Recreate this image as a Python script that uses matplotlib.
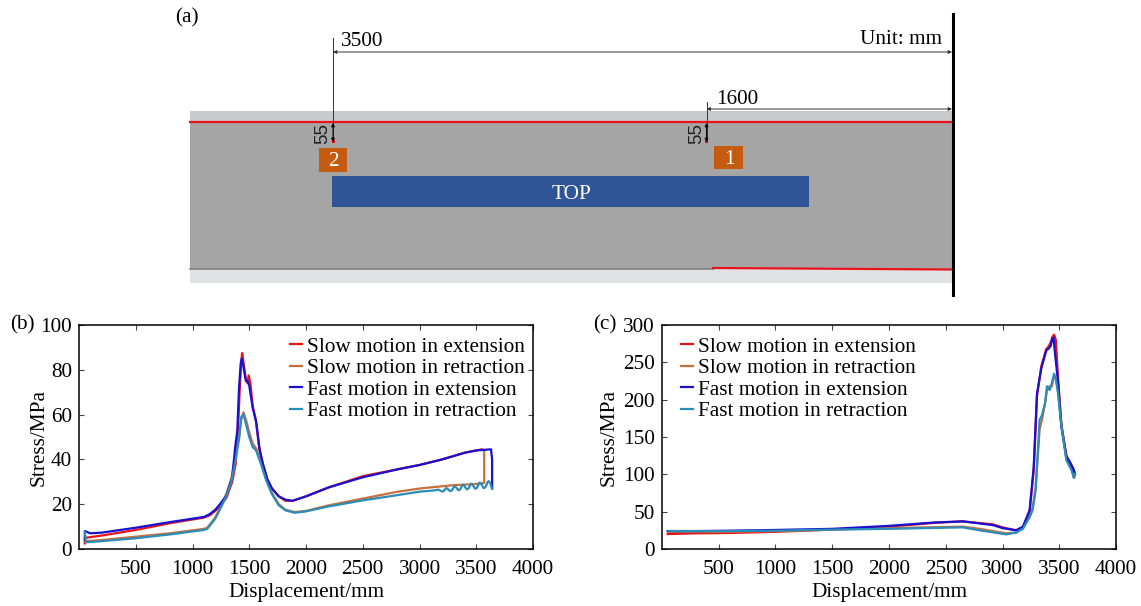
import matplotlib
matplotlib.use('Agg')
import matplotlib.pyplot as plt
from matplotlib.patches import Rectangle

## ----------------------------------------------------------------------------
## Data
## ----------------------------------------------------------------------------
labels = ['Slow motion in extension', 'Slow motion in retraction',
          'Fast motion in extension', 'Fast motion in retraction']
colors = ['#e8141c', '#c8703c', '#1a10d0', '#2a8cb8']

## panel (b)
b_slow_ext_x = [50, 60, 200, 500, 800, 1100, 1150, 1200, 1250, 1300, 1350, 1380, 1400, 1415, 1430, 1438, 1450, 1470, 1485, 1495, 1510, 1530, 1560, 1590, 1620, 1660, 1700, 1760, 1820, 1880, 2000, 2200, 2500, 2800, 3000, 3200, 3400, 3500, 3550, 3570]
b_slow_ext_y = [2.5, 5, 6, 8.5, 11.5, 14, 15, 17, 19.5, 23, 30, 38, 52, 70, 84, 87.5, 83, 76, 74, 77.5, 74, 64, 57, 44, 38, 31, 27, 23.5, 21.5, 21.5, 23.5, 27.5, 32.5, 35.5, 37.5, 40, 43, 44, 44.5, 44]
b_slow_ret_x = [3570, 3570, 3500, 3300, 3000, 2800, 2500, 2200, 2000, 1900, 1820, 1760, 1700, 1650, 1600, 1560, 1530, 1500, 1475, 1450, 1430, 1410, 1373, 1340, 1300, 1260, 1200, 1130, 1100, 800, 500, 200, 60]
b_slow_ret_y = [44, 29.5, 29, 28.5, 27, 25.5, 22.5, 19.5, 17, 16.5, 17.5, 20, 25, 31, 39, 45, 47, 52, 57, 61, 58, 50, 40, 31, 25, 20, 14, 9.5, 9, 7, 5.5, 4, 3.5]
b_fast_ext_x = [50, 52, 100, 200, 500, 800, 1100, 1150, 1200, 1250, 1300, 1350, 1375, 1395, 1410, 1425, 1435, 1450, 1470, 1485, 1500, 1530, 1560, 1590, 1620, 1660, 1700, 1760, 1820, 1880, 2000, 2200, 2500, 2800, 3000, 3200, 3400, 3500, 3630, 3640, 3640]
b_fast_ext_y = [4, 8, 7, 7.3, 9.5, 12, 14.3, 15.5, 17.5, 20.5, 24, 32, 45, 53, 72, 83, 85, 81, 75, 75, 73, 63, 57, 45, 38, 31, 27, 23.5, 22, 21.5, 23.5, 27.5, 32, 35.5, 37.5, 40, 43, 44, 44.5, 40, 27]
b_fast_ret_x = [3640, 3632, 3622, 3610, 3600, 3590, 3578, 3564, 3550, 3537, 3527, 3517, 3505, 3491, 3477, 3464, 3454, 3444, 3432, 3418, 3404, 3391, 3381, 3371, 3359, 3345, 3331, 3318, 3308, 3298, 3286, 3272, 3258, 3245, 3235, 3225, 3213, 3199, 3185, 3172, 3162, 3150, 3100, 3000, 2800, 2500, 2200, 2000, 1900, 1820, 1760, 1700, 1650, 1600, 1560, 1530, 1500, 1475, 1450, 1430, 1410, 1373, 1340, 1300, 1260, 1200, 1130, 1100, 800, 500, 200, 60, 52]
b_fast_ret_y = [27, 27.8, 29.5, 30.3, 29.9, 28.5, 27.4, 27.2, 28.5, 29.5, 29.6, 28.5, 27.2, 26.9, 27.9, 29, 29.2, 28.2, 27, 26.6, 27.4, 28.5, 28.7, 27.9, 26.7, 26.2, 26.9, 27.8, 28, 27.3, 26.2, 25.8, 26.3, 27, 27.2, 26.7, 25.8, 25.7, 26, 26.4, 26.5, 26.3, 26, 25.6, 24, 21.7, 19, 16.8, 16.2, 17.2, 19.5, 24.5, 30.5, 38.5, 44, 45.5, 50, 55, 60, 59, 49, 38, 29.5, 24, 19.5, 13.5, 9, 8.5, 6.5, 4.8, 3.5, 3, 7.5]

## panel (c)
c_slow_ext_x = [50, 300, 600, 1000, 1500, 2000, 2400, 2650, 2915, 3000, 3120, 3180, 3239, 3275, 3304, 3342, 3386, 3400, 3420, 3440, 3455, 3470, 3490, 3519, 3563, 3600, 3622, 3640, 3625]
c_slow_ext_y = [20, 21, 21.5, 23, 26, 30, 35, 37, 33, 29, 25, 29, 50, 105, 205, 245, 268, 270, 275, 284, 287, 280, 228, 166, 125, 115, 108, 100, 97]
c_slow_ret_x = [3640, 3630, 3607, 3563, 3519, 3490, 3470, 3454, 3435, 3415, 3392, 3375, 3350, 3327, 3292, 3265, 3239, 3180, 3120, 3032, 2800, 2650, 2000, 1500, 1000, 500, 60]
c_slow_ret_y = [100, 96, 107, 120, 166, 210, 228, 232, 218, 218, 213, 195, 175, 160, 82, 55, 43, 28, 22, 21, 27, 30, 28, 26, 24, 23, 23]
c_fast_ext_x = [50, 300, 600, 1000, 1500, 2000, 2400, 2650, 2915, 3000, 3120, 3180, 3239, 3275, 3304, 3342, 3386, 3405, 3425, 3439, 3450, 3460, 3490, 3519, 3563, 3600, 3622, 3637, 3630, 3600]
c_fast_ext_y = [24, 24, 24.5, 25.5, 27, 31, 35.5, 37, 32, 28, 25, 30, 52, 110, 208, 242, 266, 268, 272, 282, 283, 266, 222, 164, 124, 114, 108, 101, 104, 112]
c_fast_ret_x = [3639, 3630, 3607, 3563, 3519, 3490, 3470, 3454, 3435, 3415, 3392, 3375, 3345, 3327, 3292, 3265, 3239, 3180, 3120, 3032, 2800, 2650, 2000, 1500, 1000, 500, 60]
c_fast_ret_y = [101, 95, 106, 119, 164, 208, 228, 235, 222, 213, 218, 195, 178, 173, 79, 52, 43, 27, 22, 19.6, 25, 29, 27, 26, 24.5, 24, 24]

panel_b = [(b_slow_ext_x, b_slow_ext_y), (b_slow_ret_x, b_slow_ret_y),
           (b_fast_ext_x, b_fast_ext_y), (b_fast_ret_x, b_fast_ret_y)]
panel_c = [(c_slow_ext_x, c_slow_ext_y), (c_slow_ret_x, c_slow_ret_y),
           (c_fast_ext_x, c_fast_ext_y), (c_fast_ret_x, c_fast_ret_y)]
x_ticks = [500, 1000, 1500, 2000, 2500, 3000, 3500, 4000]
b_y_ticks = [0, 20, 40, 60, 80, 100]
c_y_ticks = [0, 50, 100, 150, 200, 250, 300]

W, H = 1141, 606
FS = 15.3

plt.rcParams['font.family'] = ['Liberation Serif', 'DejaVu Serif']
fig = plt.figure(figsize=(W / 100, H / 100), dpi=100)


## ----------------------------------------------------------------------------
## panel (a): a sketch, drawn on an axes that counts in image pixels
## ----------------------------------------------------------------------------
def drawSketch():
    ax = fig.add_axes([0, 0, 1, 1])
    ax.set_xlim(0, W)
    ax.set_ylim(H, 0)
    ax.axis('off')

    ax.add_patch(Rectangle((190, 111), 762, 11, color='#c9cacc', lw=0))
    ax.add_patch(Rectangle((190, 122), 762, 147, color='#a5a5a5', lw=0))
    ax.add_patch(Rectangle((190, 269), 762, 14, color='#e1e2e4', lw=0))
    ax.add_patch(Rectangle((332, 176), 477, 31, color='#2f5597', lw=0))
    ax.add_patch(Rectangle((319, 148), 28, 24, color='#c55a11', lw=0))
    ax.add_patch(Rectangle((714, 146), 29, 23, color='#c55a11', lw=0))

    ax.plot([190, 952], [122, 122], color='#e8141c', lw=1.6)
    ax.plot([190, 713], [269, 269], color='#7f7f7f', lw=1.2)
    ax.plot([713, 952], [268, 269.5], color='#e8141c', lw=1.6)
    ax.plot([952.5, 952.5], [14, 295], color='black', lw=2.2)

    ## dimension lines
    ax.plot([333, 333], [38, 142], color='#333333', lw=0.7)
    ax.plot([706.5, 706.5], [102, 142], color='#333333', lw=0.7)
    for x0, y0 in [(333, 52), (706.5, 109)]:
        ax.annotate('', xy=(x0, y0), xytext=(952, y0),
                    arrowprops=dict(arrowstyle='<|-|>', color='#333333', lw=0.7,
                                    mutation_scale=5, shrinkA=0, shrinkB=0))
    for x0 in [333, 706.5]:
        ax.annotate('', xy=(x0, 123), xytext=(x0, 142),
                    arrowprops=dict(arrowstyle='<|-|>', color='black', lw=0.7,
                                    mutation_scale=5, shrinkA=0, shrinkB=0))
        ax.add_patch(Rectangle((x0 - 1.5, 140), 3, 3, color='#e8141c', lw=0))
        ax.text(x0 - 10, 134, '55', rotation=90, ha='center', va='center',
                fontsize=13.5, family='Liberation Sans', color='#222222')

    ax.text(175, 17.5, '(a)', ha='left', va='center', fontsize=FS)
    ax.text(341, 41, '3500', ha='left', va='center', fontsize=FS)
    ax.text(716, 100, '1600', ha='left', va='center', fontsize=FS)
    ax.text(860, 39, 'Unit: mm', ha='left', va='center', fontsize=FS)
    ax.text(333, 162, '2', ha='center', va='center', fontsize=FS, color='white')
    ax.text(729, 160, '1', ha='center', va='center', fontsize=FS, color='white')
    ax.text(571, 194.5, 'TOP', ha='center', va='center', fontsize=FS, color='white')
    ax.text(10, 324.5, '(b)', ha='left', va='center', fontsize=FS)
    ax.text(593, 324.5, '(c)', ha='left', va='center', fontsize=FS)


## ----------------------------------------------------------------------------
## panels (b) and (c)
## ----------------------------------------------------------------------------
def drawPanel(left, right, series, y_ticks, legend_x, ylabel_px):
    top, bottom = 325, 549
    width = right - left
    ax = fig.add_axes([left / W, 1 - bottom / H, width / W, (bottom - top) / H])
    for (xs, ys), col, lab in zip(series, colors, labels):
        ax.plot(xs, ys, color=col, lw=1.6, label=lab)
    ax.set_xlim(0, 4000)
    ax.set_ylim(0, y_ticks[-1])
    ax.set_xticks(x_ticks)
    ax.set_yticks(y_ticks)
    ax.tick_params(direction='in', top=True, right=True, length=3.5, width=0.8,
                   color='#444444', labelsize=FS)
    ax.tick_params(axis='x', pad=8)
    ax.tick_params(axis='y', pad=5)
    for spine in ax.spines.values():
        spine.set_linewidth(1.1)
    ax.set_xlabel('Displacement/mm', fontsize=FS, labelpad=3)
    ax.set_ylabel('Stress/MPa', fontsize=FS)
    ax.yaxis.set_label_coords(-ylabel_px / width, 0.5)
    ax.legend(loc='upper left', bbox_to_anchor=(legend_x, 1.0), frameon=False,
              fontsize=FS, handlelength=0.55, handletextpad=0.25, labelspacing=0.08,
              borderpad=0.3, borderaxespad=0.25)


drawSketch()
drawPanel(79, 533, panel_b, b_y_ticks, 0.44, 30)
drawPanel(662, 1116, panel_c, c_y_ticks, 0.017, 43)

fig.savefig('out.png', dpi=100)
